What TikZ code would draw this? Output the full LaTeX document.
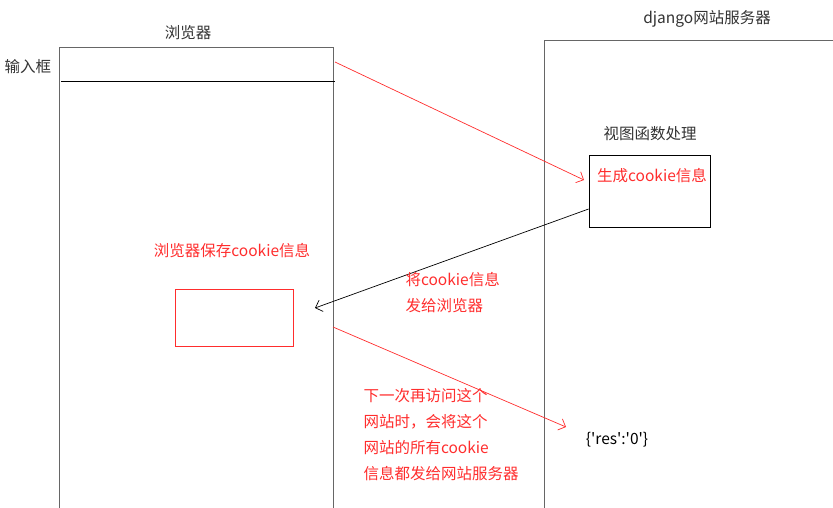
\documentclass[tikz,border=0pt]{standalone}
\usepackage{fontspec}
\setmainfont{Noto Sans CJK SC}
\usetikzlibrary{arrows.meta,positioning}
\definecolor{hired}{RGB}{255,45,45}

\begin{document}
\begin{tikzpicture}[x=1pt, y=-1pt, >={Straight Barb[length=6pt,width=12pt]},
  font=\fontsize{15.5}{26}\selectfont,
  frame/.style={draw=black!60, line width=1pt},
  box/.style={draw, line width=0.8pt, inner sep=0pt},
  note/.style={text=hired, align=left},
  title/.style={text=black!80}]
\useasboundingbox (0,0) rectangle (833,508);
% browser side
\draw[frame] (59,508) -- (59,48) -- (333,48) -- (333,508);
\draw[line width=0.8pt] (61,81) -- (335,81);
\node[title] (browser) at (188,33) {浏览器};
\node[title] (input) at (28,67) {输入框};
\node[note] (save) at (232,251) {浏览器保存cookie信息};
\node[box, draw=hired, minimum width=118pt, minimum height=57pt] (store) at (234,317.5) {};
% server side
\draw[frame] (544,508) -- (544,41) -- (833,41);
\node[title] (server) at (707,19) {django网站服务器};
\node[title] (view) at (650,134) {视图函数处理};
\node[box, minimum width=121pt, minimum height=72pt] (gen) at (649.5,191) {};
\node[note] (gentext) at (652,176) {生成cookie信息};
\node (res) at (617,440) {\{\textquotesingle res\textquotesingle:\textquotesingle 0\textquotesingle\}};
% connectors
\coordinate (inputend) at (335,62);
\coordinate (genin) at (584,180);
\coordinate (back) at (315,308);
\coordinate (nextout) at (333,327);
\coordinate (nextin) at (566,427);
\draw[->, hired, line width=0.7pt] (inputend) -- (genin);
\draw[->, line width=0.7pt] ([yshift=-18pt]gen.west) -- (back);
\draw[->, hired, line width=0.7pt] (nextout) -- (nextin);
\node[note, anchor=west] (sendtext) at (402,292.5) {将cookie信息\\发给浏览器};
\node[note, anchor=west] (nexttext) at (360,435) {下一次再访问这个\\网站时，会将这个\\网站的所有cookie\\信息都发给网站服务器};
\end{tikzpicture}
\end{document}
